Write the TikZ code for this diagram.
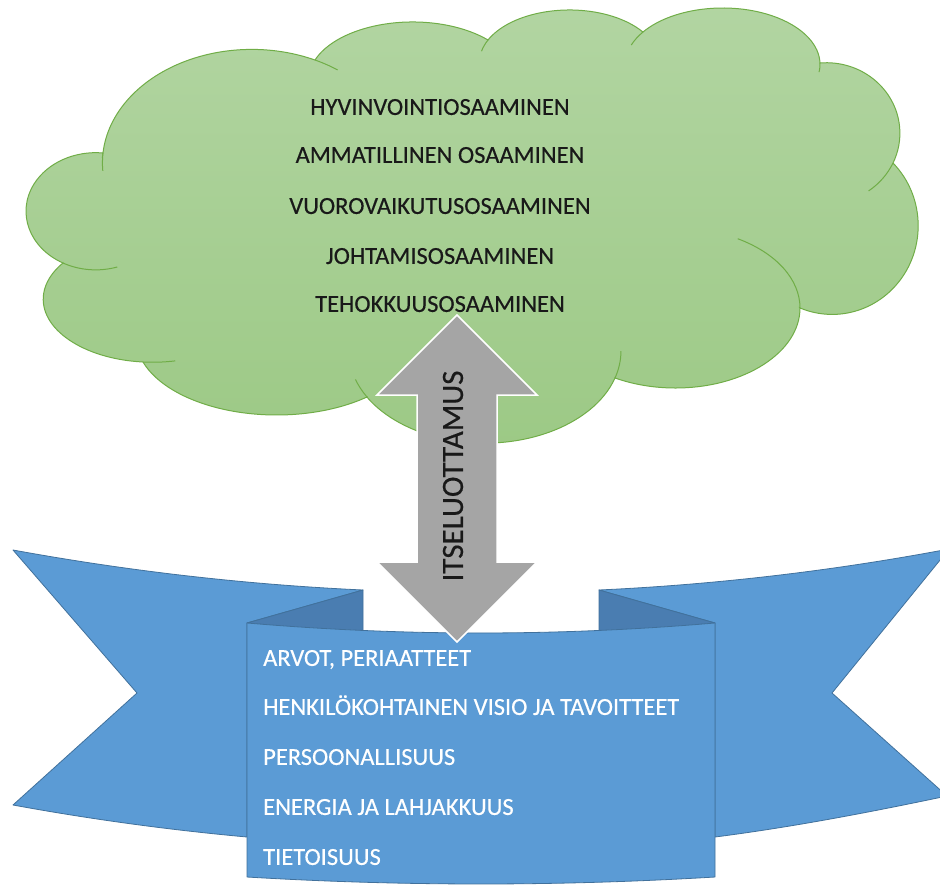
\documentclass[tikz,border=0pt]{standalone}
\usepackage{fontspec}
\setmainfont{Carlito}[FakeBold=0.35]
\definecolor{cloudtop}{HTML}{B2D5A2}
\definecolor{cloudbot}{HTML}{9CC985}
\definecolor{cloudedge}{HTML}{70AD47}
\definecolor{ribbonblue}{HTML}{5B9BD5}
\definecolor{ribbonfold}{HTML}{4A7DB1}
\definecolor{ribbonedge}{HTML}{41719C}
\definecolor{arrowgray}{HTML}{A5A5A5}
\begin{document}
\begin{tikzpicture}[x=1pt,y=1pt,yscale=-1,
  cloudshape/.style={top color=cloudtop,bottom color=cloudbot,draw=cloudedge,line width=1pt},
  crease/.style={draw=cloudedge,line width=1pt},
  ribbonpart/.style={fill=ribbonblue,draw=ribbonedge,line width=0.8pt,line join=round},
  foldpart/.style={fill=ribbonfold,draw=ribbonedge,line width=0.8pt,line join=round},
  arrowshape/.style={fill=arrowgray,draw=white,line width=1.5pt,line join=miter},
  cloudtext/.style={font=\fontsize{24.5}{29}\selectfont,text=black!90,anchor=base,inner sep=0pt},
  ribbontext/.style={font=\fontsize{24.5}{29}\selectfont,text=white,anchor=base west,inner sep=0pt},
  arrowtext/.style={font=\fontsize{31}{37}\selectfont,text=black!90,rotate=90,inner sep=0pt}]
\useasboundingbox (0,0) rectangle (940,884);
\fill[white] (0,0) rectangle (940,884);

% cusps of the cloud outline
\coordinate (c1) at (103,153);
\coordinate (c2) at (315,60);
\coordinate (c3) at (488,40);
\coordinate (c4) at (643,32);
\coordinate (c5) at (820,63);
\coordinate (c6) at (893,163);
\coordinate (c7) at (800,308);
\coordinate (c8) at (615,378);
\coordinate (c9) at (367,397);
\coordinate (c10) at (143,362);
\coordinate (c11) at (63,263);

% cloud: one elliptic arc per lobe
\shade[cloudshape]
  (c1) arc[start angle=185,end angle=295,x radius=149.4,y radius=113.5] -- (c2)
  arc[start angle=200,end angle=316.5,x radius=103.9,y radius=57.8] -- (c3)
  arc[start angle=205,end angle=324.8,x radius=89.9,y radius=52] -- (c4)
  arc[start angle=215,end angle=358.7,x radius=97.3,y radius=56.3] -- (c5)
  arc[start angle=265,end angle=385,x radius=73.5,y radius=70.5] -- (c6)
  arc[start angle=-45,end angle=112,x radius=86,y radius=88.7] -- (c7)
  arc[start angle=0,end angle=119,x radius=124.6,y radius=80] -- (c8)
  arc[start angle=17,end angle=150,x radius=136.1,y radius=92] -- (c9)
  arc[start angle=50,end angle=161.9,x radius=140.6,y radius=76.9] -- (c10)
  arc[start angle=95,end angle=215,x radius=109.3,y radius=63.1] -- (c11)
  arc[start angle=118,end angle=276,x radius=69.7,y radius=58.6] -- cycle;

% inner creases continuing the lobes
\draw[crease] (c1) arc[start angle=185,end angle=176,x radius=149.4,y radius=113.5];
\draw[crease] (c2) arc[start angle=295,end angle=305,x radius=149.4,y radius=113.5];
\draw[crease] (c3) arc[start angle=205,end angle=192,x radius=89.9,y radius=52];
\draw[crease] (c4) arc[start angle=215,end angle=200,x radius=97.3,y radius=56.3];
\draw[crease] (c5) arc[start angle=358.7,end angle=368,x radius=97.3,y radius=56.3];
\draw[crease] (c6) arc[start angle=385,end angle=415,x radius=73.5,y radius=70.5];
\draw[crease] (c7) arc[start angle=0,end angle=-60,x radius=124.6,y radius=80];
\draw[crease] (c8) arc[start angle=17,end angle=0,x radius=136.1,y radius=92];
\draw[crease] (c9) arc[start angle=150,end angle=162,x radius=136.1,y radius=92];
\draw[crease] (c10) arc[start angle=95,end angle=78,x radius=109.3,y radius=63.1];
\draw[crease] (c11) arc[start angle=118,end angle=72,x radius=69.7,y radius=58.6];

% cloud texts
\node[cloudtext] (k1) at (440,114.9) {HYVINVOINTIOSAAMINEN};
\node[cloudtext] (k2) at (440,162.9) {AMMATILLINEN OSAAMINEN};
\node[cloudtext] (k3) at (440,213.9) {VUOROVAIKUTUSOSAAMINEN};
\node[cloudtext] (k4) at (440,263.9) {JOHTAMISOSAAMINEN};
\node[cloudtext] (k5) at (440,311.9) {TEHOKKUUSOSAAMINEN};

% ribbon: back wings
\path[ribbonpart] (13,550) .. controls (129.7,571.3) and (246.3,584.6) .. (363,590)
  -- (247,623) -- (247,837) .. controls (169,829.9) and (91,819.3) .. (13,805)
  -- (137,693) -- cycle;
\path[ribbonpart] (949,549) .. controls (832.3,571) and (715.7,584.6) .. (599,590)
  -- (715,623) -- (715,837) .. controls (793,827) and (871,812) .. (947,796)
  -- (832,693) -- cycle;
% folds
\path[foldpart] (363,590) -- (363,634) -- (247,623) -- cycle;
\path[foldpart] (599,590) -- (599,634) -- (715,623) -- cycle;
% front panel
\path[ribbonpart] (247,623) .. controls (403,636.3) and (559,636.3) .. (715,623)
  -- (715,877) .. controls (559,886.3) and (403,886.3) .. (247,877) -- cycle;

% ribbon texts
\node[ribbontext] (r1) at (263,665.9) {ARVOT, PERIAATTEET};
\node[ribbontext] (r2) at (263,714.9) {HENKILÖKOHTAINEN VISIO JA TAVOITTEET};
\node[ribbontext] (r3) at (263,764.9) {PERSOONALLISUUS};
\node[ribbontext] (r4) at (263,814.9) {ENERGIA JA LAHJAKKUUS};
\node[ribbontext] (r5) at (263,864.9) {TIETOISUUS};

% double-headed block arrow
\path[arrowshape] (457,315) -- (537,395) -- (497,395) -- (497,562) -- (537,562)
  -- (457,642) -- (377,562) -- (417,562) -- (417,395) -- (377,395) -- cycle;
\node[arrowtext] (itse) at (453,476) {ITSELUOTTAMUS};
\end{tikzpicture}
\end{document}
